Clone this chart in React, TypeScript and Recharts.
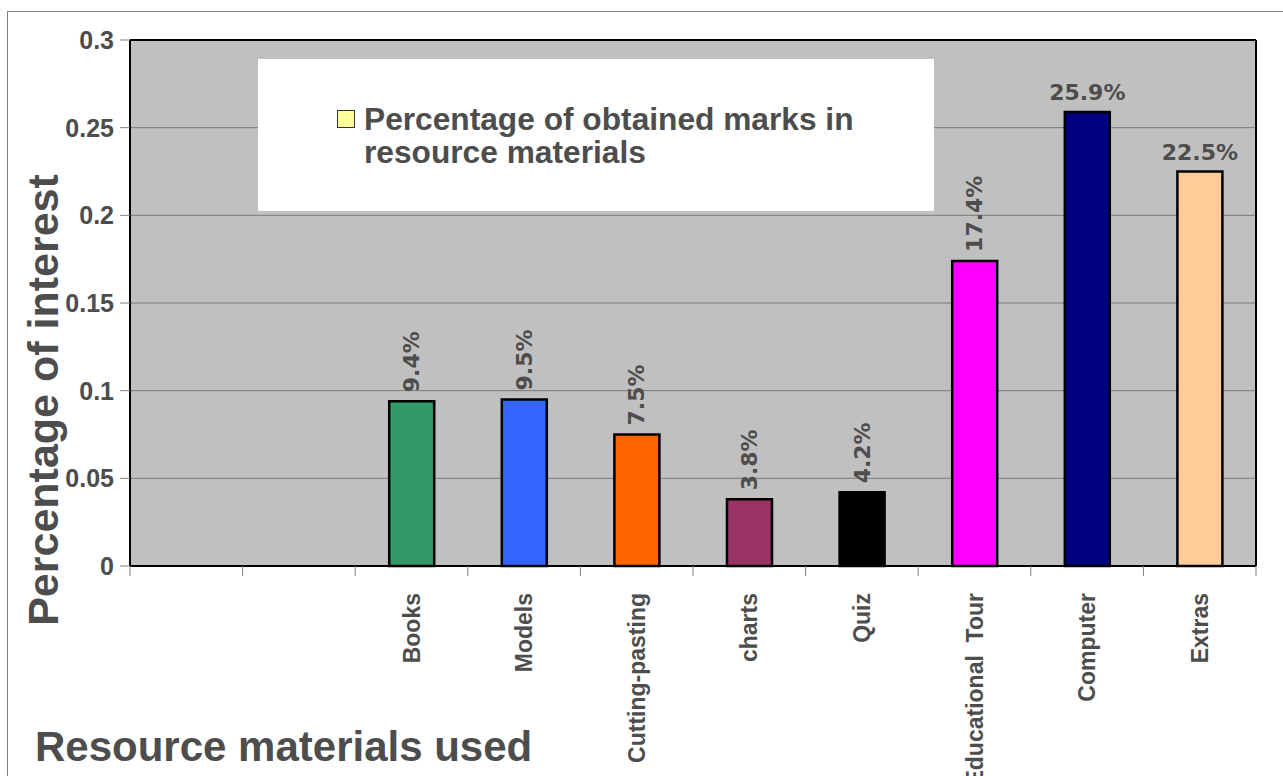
import React from 'react';
import { ComposedChart, Bar, Line, XAxis, YAxis, CartesianGrid, Cell, LabelList, Legend, ReferenceLine } from 'recharts';

const categories = ['', ' ', 'Books', 'Models', 'Cutting-pasting', 'charts', 'Quiz', 'Educational  Tour', 'Computer', 'Extras'];
const values: (number | null)[] = [null, null, 0.094, 0.095, 0.075, 0.038, 0.042, 0.174, 0.259, 0.225];
const barColors = ['#ffffff', '#ffffff', '#339966', '#3366ff', '#ff6600', '#993366', '#000000', '#ff00ff', '#000080', '#ffcc99'];
const horizontalLabels = ['Computer', 'Extras'];
const yTicks = [0, 0.05, 0.1, 0.15, 0.2, 0.25, 0.3];
const edgeTicks = [0, 1, 2, 3, 4, 5, 6, 7, 8, 9, 10];
const seriesName = 'Percentage of obtained marks in resource materials';
const legendColor = '#ffff99';

const data = categories.map((c, i) => ({ name: c, value: values[i], edge: i + 0.5 }));

const TEXT = '#4d4d4d';
const SANS = '"Liberation Sans", Arial, sans-serif';
const DEJA = '"DejaVu Sans", sans-serif';

const CatTick = (props: any) => {
  const { x, y, payload } = props;
  const ty = y + 18;
  return (
    <text
      x={x}
      y={ty}
      transform={`rotate(-90, ${x}, ${ty})`}
      textAnchor="end"
      dominantBaseline="central"
      fill={TEXT}
      fontFamily={SANS}
      fontWeight="bold"
      fontSize={23}
      style={{ whiteSpace: 'pre' }}
    >
      {payload.value}
    </text>
  );
};

const EmptyTick = () => <g />;

const renderLabel = (props: any) => {
  const { x, y, width, value } = props;
  if (value === null || value === undefined) return null;
  const idx = values.indexOf(value);
  const txt = (value * 100).toFixed(1) + '%';
  const cx = x + width / 2;
  if (idx >= 0 && horizontalLabels.includes(categories[idx])) {
    return (
      <text x={cx} y={y - 12} textAnchor="middle" fill={TEXT} fontFamily={DEJA} fontWeight="bold" fontSize={22}>
        {txt}
      </text>
    );
  }
  const ty = y - 9;
  return (
    <text
      x={cx}
      y={ty}
      transform={`rotate(-90, ${cx}, ${ty})`}
      textAnchor="start"
      dominantBaseline="central"
      fill={TEXT}
      fontFamily={DEJA}
      fontWeight="bold"
      fontSize={22}
    >
      {txt}
    </text>
  );
};

const LegendBox = (props: any) => {
  const item = props.payload && props.payload.find((p: any) => p.value === seriesName);
  const label = item ? item.value : seriesName;
  return (
    <div style={{ width: 676, height: 152, background: '#ffffff', position: 'relative' }}>
      <div
        style={{
          position: 'absolute',
          left: 79,
          top: 51,
          width: 16,
          height: 16,
          background: legendColor,
          border: '1px solid #333333',
        }}
      />
      <div
        style={{
          position: 'absolute',
          left: 106,
          top: 44,
          width: 540,
          fontFamily: SANS,
          fontWeight: 'bold',
          fontSize: 31.7,
          lineHeight: '33px',
          color: TEXT,
          textAlign: 'left',
        }}
      >
        {label}
      </div>
    </div>
  );
};

export default function App() {
  return (
    <div style={{ position: 'fixed', left: 0, top: 0, width: 1283, height: 776, overflow: 'hidden', background: '#ffffff' }}>
      <div
        style={{
          position: 'absolute',
          left: 7,
          top: 11,
          width: 1300,
          height: 800,
          borderTop: '1px solid #808080',
          borderLeft: '1px solid #808080',
        }}
      />
      <div style={{ position: 'absolute', left: 0, top: 0 }}>
        <ComposedChart width={1283} height={776} data={data} margin={{ top: 40, right: 27, bottom: 0, left: 0 }}>
          <CartesianGrid horizontal vertical={false} stroke="#7a7a7a" fill="#c0c0c0" fillOpacity={1} yAxisId="left" xAxisId="cat" />
          <XAxis
            xAxisId="cat"
            dataKey="name"
            type="category"
            height={209}
            axisLine={false}
            tickLine={false}
            tick={<CatTick />}
            interval={0}
          />
          <XAxis
            xAxisId="aedge"
            dataKey="edge"
            type="number"
            domain={[0, 10]}
            ticks={edgeTicks}
            interval={0}
            height={1}
            tick={<EmptyTick />}
            tickLine={{ stroke: '#808080', strokeWidth: 1 }}
            tickSize={10}
            axisLine={{ stroke: '#000000', strokeWidth: 2 }}
          />
          <YAxis
            yAxisId="left"
            width={130}
            domain={[0, 0.3]}
            ticks={yTicks}
            tickSize={10}
            tickMargin={6}
            tickLine={{ stroke: '#808080', strokeWidth: 1 }}
            axisLine={{ stroke: '#000000', strokeWidth: 2 }}
            tick={{ fill: TEXT, fontFamily: SANS, fontWeight: 'bold', fontSize: 25 }}
          />
          <Legend
            layout="horizontal"
            verticalAlign="middle"
            align="center"
            content={<LegendBox />}
            wrapperStyle={{ position: 'absolute', left: 258, top: 59, bottom: 'auto', width: 676, height: 152 }}
          />
          <Bar
            xAxisId="cat"
            yAxisId="left"
            dataKey="value"
            name={seriesName}
            barSize={45}
            stroke="#000000"
            strokeWidth={2.5}
            fill={legendColor}
            isAnimationActive={false}
          >
            {data.map((d, i) => (
              <Cell key={i} fill={barColors[i]} stroke="#000000" strokeWidth={2.5} />
            ))}
            <LabelList dataKey="value" content={renderLabel} />
          </Bar>
          <Line
            xAxisId="aedge"
            yAxisId="left"
            dataKey="value"
            name="edge-holder"
            stroke="none"
            dot={false}
            activeDot={false}
            legendType="none"
            isAnimationActive={false}
          />
          <ReferenceLine xAxisId="aedge" yAxisId="left" y={0.3} stroke="#000000" strokeWidth={2} />
          <ReferenceLine xAxisId="aedge" yAxisId="left" x={10} stroke="#000000" strokeWidth={2} />
          <ReferenceLine xAxisId="aedge" yAxisId="left" y={0} stroke="#000000" strokeWidth={2} />
        </ComposedChart>
      </div>
      <div
        style={{
          position: 'absolute',
          left: 43,
          top: 400,
          transform: 'translate(-50%, -50%) rotate(-90deg)',
          whiteSpace: 'nowrap',
          fontFamily: SANS,
          fontWeight: 'bold',
          fontSize: 43,
          lineHeight: '43px',
          color: TEXT,
        }}
      >
        Percentage of interest
      </div>
      <div
        style={{
          position: 'absolute',
          left: 35,
          top: 726,
          whiteSpace: 'nowrap',
          fontFamily: SANS,
          fontWeight: 'bold',
          fontSize: 42,
          lineHeight: '42px',
          color: TEXT,
        }}
      >
        Resource materials used
      </div>
    </div>
  );
}
